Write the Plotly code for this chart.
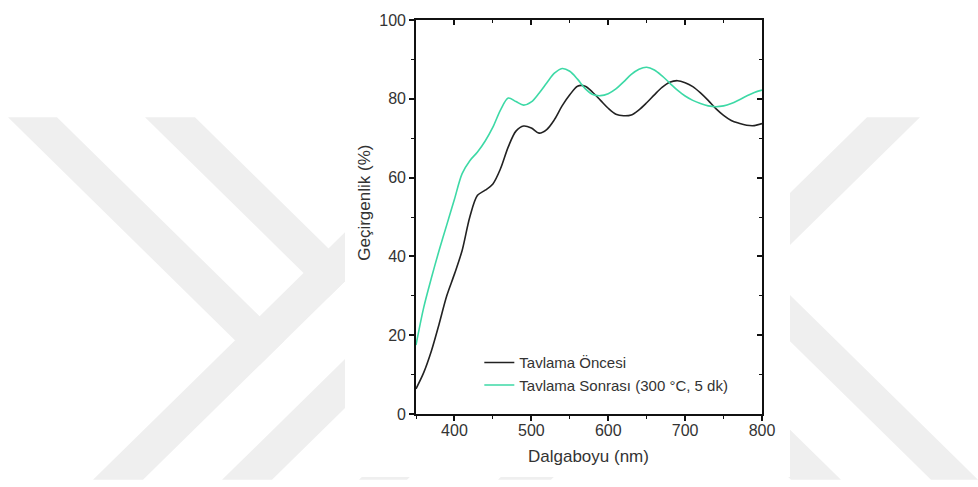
import plotly.graph_objects as go

# ---- data: transmittance spectra (wavelength in nm, transmittance in %) ----
wavelength = [350, 360, 370, 380, 390, 400, 410, 420, 430, 440, 450, 460, 470, 480,
              490, 500, 510, 520, 530, 540, 550, 560, 570, 580, 590, 600, 610, 620,
              630, 640, 650, 660, 670, 680, 690, 700, 710, 720, 730, 740, 750, 760,
              770, 780, 790, 800]

before_anneal = [6.4, 10.5, 16.0, 22.8, 30.0, 35.5, 41.5, 50.0, 55.5, 56.8, 58.4, 62.3,
                 67.8, 71.8, 73.1, 72.6, 71.3, 72.2, 74.7, 78.2, 81.0, 83.2, 83.2, 81.6,
                 79.6, 77.6, 76.1, 75.7, 75.9, 77.2, 79.0, 81.0, 82.9, 84.2, 84.6, 84.1,
                 83.1, 81.5, 79.6, 77.5, 75.8, 74.5, 73.8, 73.3, 73.2, 73.7]

after_anneal = [17.5, 27.0, 34.5, 41.5, 48.0, 54.5, 61.0, 64.3, 66.5, 69.3, 72.8, 77.2,
                80.2, 79.3, 78.4, 79.2, 81.4, 84.0, 86.5, 87.7, 87.0, 85.0, 82.6, 81.1,
                80.8, 81.3, 82.5, 84.3, 86.2, 87.5, 88.0, 87.3, 85.8, 84.0, 82.2, 80.7,
                79.6, 78.8, 78.2, 78.0, 78.2, 78.8, 79.7, 80.7, 81.6, 82.2]

series_names = ["Tavlama Öncesi", "Tavlama Sonrası (300 °C, 5 dk)"]
series_colors = ["#222222", "#3dd9a6"]

x_ticks = [400, 500, 600, 700, 800]
y_ticks = [0, 20, 40, 60, 80, 100]

x_title = "Dalgaboyu (nm)"
y_title = "Geçirgenlik (%)"

FONT = "Liberation Sans, Arial, sans-serif"

# ---- page geometry (pixels) ----
W, H = 978, 487
PL, PR, PT, PB = 416, 762, 13, 414   # plot area edges


def px_to_paper(px, py):
    return (px - PL) / (PR - PL), (PB - py) / (PB - PT)


# ---- background watermark: diagonal light-grey bands ----
def clip(poly, a, b, c):
    """Keep the part of polygon poly where a*x + b*y <= c."""
    out = []
    n = len(poly)
    for i in range(n):
        p, q = poly[i], poly[(i + 1) % n]
        fp = a * p[0] + b * p[1] - c
        fq = a * q[0] + b * q[1] - c
        if fp <= 0:
            out.append(p)
        if (fp < 0 < fq) or (fq < 0 < fp):
            t = fp / (fp - fq)
            out.append((p[0] + t * (q[0] - p[0]), p[1] + t * (q[1] - p[1])))
    return out


frame = [(0, 112), (W, 112), (W, 481), (0, 481)]

# each band: list of half-planes a*x + b*y <= c (pixel space, y downwards)
bands = [
    [(1, -1, -55), (-1, 1, 104), (1, 1, 624)],     # upper arm 1
    [(1, -1, 83), (-1, 1, -33), (1, 1, 624)],      # upper arm 2
    [(-1, -1, -574), (1, 1, 624)],                 # lower arm 1
    [(-1, -1, -703), (1, 1, 753)],                 # lower arm 2
    [(-1, -1, -840), (1, 1, 888)],                 # lower arm 3
    [(-1, -1, -979), (1, 1, 1032)],                # right band A
    [(1, -1, 497), (-1, 1, -450)],                 # right band B
    [(1, -1, 360), (-1, 1, -310)],                 # right band C
]

shapes = []
for band in bands:
    poly = frame
    for a, b, c in band:
        poly = clip(poly, a, b, c)
    if len(poly) < 3:
        continue
    pts = [px_to_paper(x, y) for x, y in poly]
    path = "M " + " L ".join(f"{x:.5f},{y:.5f}" for x, y in pts) + " Z"
    shapes.append(dict(type="path", path=path, xref="paper", yref="paper",
                       fillcolor="#efefef", line=dict(width=0), layer="below"))

# white panel behind the chart
x0, y0 = px_to_paper(345, 478)
x1, y1 = px_to_paper(790, 0)
shapes.append(dict(type="rect", xref="paper", yref="paper", x0=x0, y0=y0, x1=x1, y1=y1,
                   fillcolor="white", line=dict(width=0), layer="below"))

# ---- figure ----
fig = go.Figure()
for name, vals, col in zip(series_names, [before_anneal, after_anneal], series_colors):
    fig.add_trace(go.Scatter(x=wavelength, y=vals, mode="lines", name=name,
                             line=dict(color=col, width=1.6, shape="spline", smoothing=0.9)))

# invisible trace so the mirrored top/right axes are drawn
fig.add_trace(go.Scatter(x=[None], y=[None], xaxis="x2", yaxis="y2",
                         showlegend=False, hoverinfo="skip"))

tick_font = dict(family=FONT, size=16, color="#333333")
axis_common = dict(showline=True, linecolor="#111111", linewidth=1.6, showgrid=False,
                   zeroline=False, ticks="outside", ticklen=5, tickwidth=1.5,
                   tickcolor="#111111", tickfont=tick_font)

fig.update_layout(
    width=W, height=H, autosize=False,
    margin=dict(l=PL, r=W - PR, t=PT, b=H - PB, pad=0),
    paper_bgcolor="white", plot_bgcolor="rgba(0,0,0,0)",
    showlegend=True,
    legend=dict(x=0.183, y=0.172, xanchor="left", yanchor="top",
                bgcolor="rgba(0,0,0,0)", borderwidth=0, tracegroupgap=0,
                font=dict(family=FONT, size=15, color="#333333")),
    xaxis=dict(range=[350, 800], tickvals=x_ticks, mirror=True, ticklabelstandoff=-4,
               minor=dict(dtick=50, tick0=350, ticks="outside", ticklen=3, tickwidth=1.2,
                          tickcolor="#111111"),
               **axis_common),
    yaxis=dict(range=[0, 100], tickvals=y_ticks, mirror=True,
               minor=dict(dtick=10, tick0=0, ticks="outside", ticklen=3, tickwidth=1.2,
                          tickcolor="#111111"),
               **axis_common),
    xaxis2=dict(range=[350, 800], overlaying="x", side="top", anchor="y2",
                tickvals=x_ticks, showticklabels=False, showline=False, showgrid=False,
                zeroline=False, ticks="inside", ticklen=5, tickwidth=1.5, tickcolor="#111111",
                minor=dict(dtick=50, tick0=350, ticks="inside", ticklen=3, tickwidth=1.2,
                           tickcolor="#111111")),
    yaxis2=dict(range=[0, 100], overlaying="y", side="right", anchor="x2",
                tickvals=y_ticks, showticklabels=False, showline=False, showgrid=False,
                zeroline=False, ticks="inside", ticklen=5, tickwidth=1.5, tickcolor="#111111",
                minor=dict(dtick=10, tick0=0, ticks="inside", ticklen=3, tickwidth=1.2,
                           tickcolor="#111111")),
    shapes=shapes,
)

# axis titles
tx, ty = px_to_paper(588, 457)
fig.add_annotation(text=x_title, x=tx, y=ty, xref="paper", yref="paper",
                   showarrow=False, xanchor="center", yanchor="middle",
                   font=dict(family=FONT, size=17, color="#333333"))
tx, ty = px_to_paper(365, 199)
fig.add_annotation(text=y_title, x=tx, y=ty, xref="paper", yref="paper", textangle=-90,
                   showarrow=False, xanchor="center", yanchor="middle",
                   font=dict(family=FONT, size=17, color="#333333"))

fig.write_html("out.html")
